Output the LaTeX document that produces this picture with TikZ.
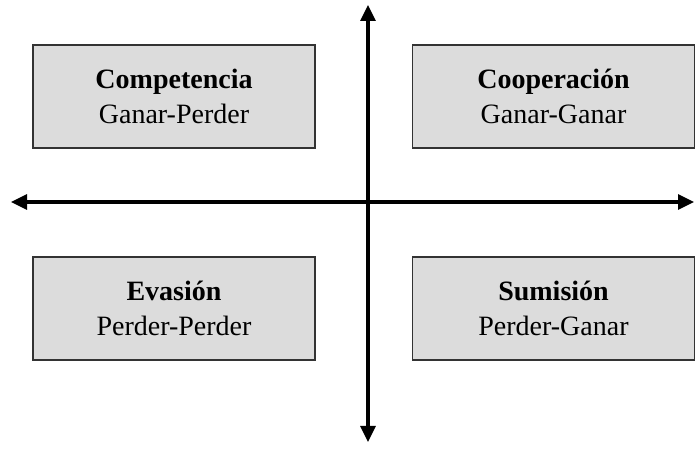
\documentclass[tikz,border=0pt]{standalone}
\usepackage{fontspec}
\setmainfont{Liberation Serif}
\usepackage{tikz}
\usetikzlibrary{arrows.meta}
\usetikzlibrary{positioning}
\definecolor{cajagris}{RGB}{220,220,220}
\tikzset{caja/.style={draw=black!80,fill=cajagris,line width=0.6pt,minimum width=141pt,minimum height=51.5pt,align=center,font=\fontsize{14}{17.5}\selectfont,inner sep=0pt}}
\tikzset{eje/.style={line width=1.6pt,-{Triangle[length=8pt,width=7.5pt]}}}

\begin{document}
\begin{tikzpicture}[x=0.5pt,y=0.5pt]
  \useasboundingbox (0,0) rectangle (695,449);
  \coordinate (centro) at (368,247);
  \coordinate (arriba) at (368,444);
  \coordinate (abajo) at (368,7);
  \coordinate (izq) at (11,247);
  \coordinate (der) at (694,247);
  \draw[eje] (centro) -- (arriba);
  \draw[eje] (centro) -- (abajo);
  \draw[eje] (centro) -- (izq);
  \draw[eje] (centro) -- (der);
  \node[caja] (comp) at (174,352.5) {\textbf{Competencia}\\Ganar-Perder};
  \node[caja] (coop) at (553.5,352.5) {\textbf{Cooperación}\\Ganar-Ganar};
  \node[caja] (evas) at (174,140.5) {\textbf{Evasión}\\Perder-Perder};
  \node[caja] (sumi) at (553.5,140.5) {\textbf{Sumisión}\\Perder-Ganar};
\end{tikzpicture}
\end{document}
